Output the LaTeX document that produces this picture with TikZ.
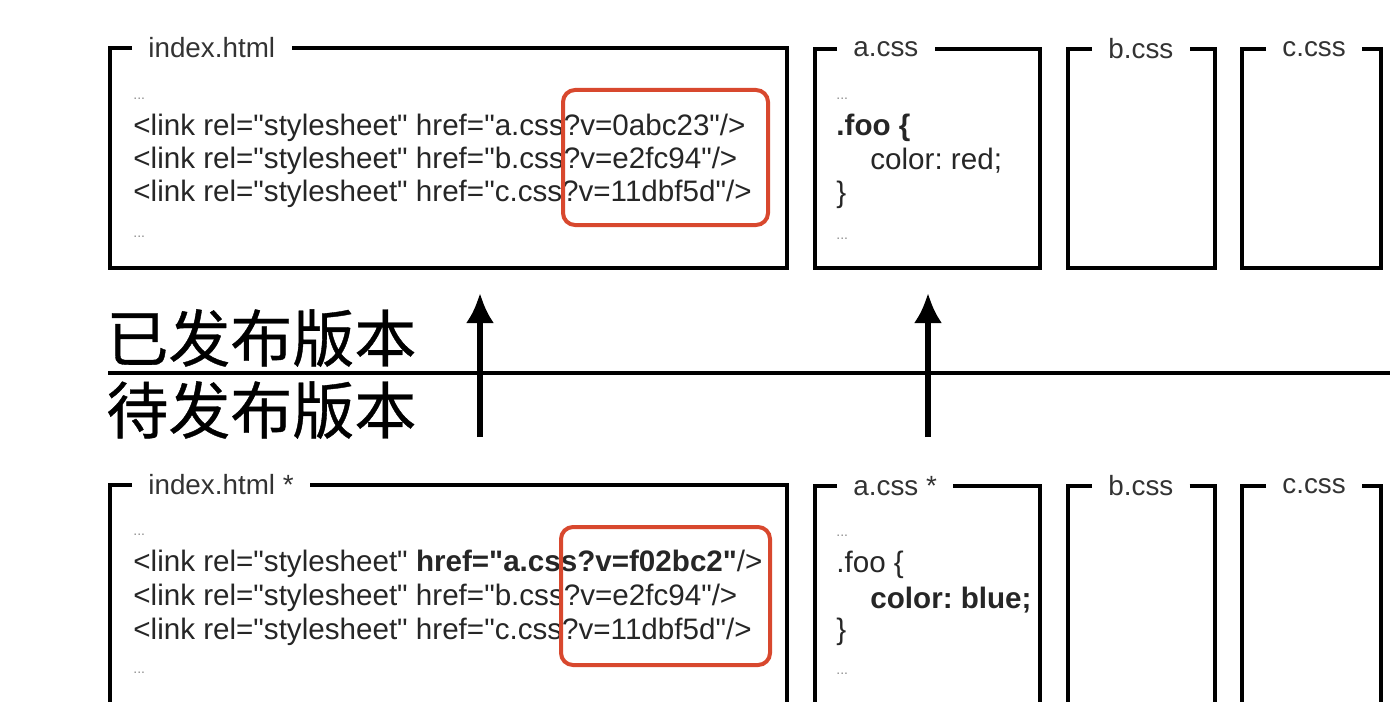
\documentclass[tikz,border=0pt]{standalone}
\usepackage{fontspec}
\setmainfont{Liberation Sans}[Ligatures=TeXOff]
\newfontfamily\cjk[FakeBold=0.6]{Noto Sans CJK SC}
\usetikzlibrary{arrows.meta}
\definecolor{boxred}{HTML}{D8482E}
\frenchspacing
\begin{document}
\begin{tikzpicture}[x=0.5pt,y=-0.5pt,
  frame/.style={line width=2pt,black},
  title/.style={inner xsep=8pt,inner ysep=0pt,font=\fontsize{13.9}{16}\selectfont,text=black!80},
  code/.style={anchor=west,inner sep=0pt,font=\fontsize{14.8}{17}\selectfont,text=black!85},
  dots/.style={anchor=west,inner sep=0pt,font=\fontsize{7}{8}\selectfont,text=black!45},
  redbox/.style={draw=boxred,line width=2pt,rounded corners=6pt},
  cn/.style={anchor=west,inner sep=0pt,font=\cjk\fontsize{31}{34}\selectfont},
  uparrow/.style={line width=2.6pt,-{Latex[length=15pt,width=14pt]}},
  divider/.style={line width=1.7pt}]
\useasboundingbox (0,0) rectangle (1400,701);

% ---------- top row (published) ----------
\node[title,anchor=west] (t1) at (132,48) {index.html};
\draw[frame] (t1.west) -- (110,48) -- (110,268) -- (787,268) -- (787,48) -- (t1.east);
\node[title,anchor=west] (t2) at (837,49) {a.css};
\draw[frame] (t2.west) -- (815,49) -- (815,268) -- (1040,268) -- (1040,49) -- (t2.east);
\node[title,anchor=west] (t3) at (1092,49) {b.css};
\draw[frame] (t3.west) -- (1068,49) -- (1068,268) -- (1215,268) -- (1215,49) -- (t3.east);
\node[title,anchor=west] (t4) at (1266,49) {c.css};
\draw[frame] (t4.west) -- (1242,49) -- (1242,268) -- (1381,268) -- (1381,49) -- (t4.east);

\node[dots] (d1) at (133,99) {...};
\node[code] (l1) at (133,128) {<link rel="stylesheet" href="a.css?v=0abc23"/>};
\node[code] (l2) at (133,161) {<link rel="stylesheet" href="b.css?v=e2fc94"/>};
\node[code] (l3) at (133,194) {<link rel="stylesheet" href="c.css?v=11dbf5d"/>};
\node[dots] (d2) at (133,237) {...};
\draw[redbox] (563,90) rectangle (768,225);

\node[dots] (d3) at (836,99) {...};
\node[code] (c1) at (836,128) {\textbf{.foo \{}};
\node[code] (c2) at (870,161) {color: red;};
\node[code] (c3) at (836,195) {\}};
\node[dots] (d4) at (836,239) {...};

% ---------- divider and labels ----------
\draw[divider] (108,373) -- (1390,373);
\node[cn] (pub) at (106,338) {已发布版本};
\node[cn] (pend) at (106,410) {待发布版本};

\coordinate (s1) at (480,437);
\coordinate (e1) at (480,293);
\coordinate (s2) at (928,437);
\coordinate (e2) at (928,293);
\draw[uparrow] (s1) -- (e1);
\draw[uparrow] (s2) -- (e2);

% ---------- bottom row (pending) ----------
\node[title,anchor=west] (b1) at (132,485) {index.html *};
\draw[frame] (b1.west) -- (110,485) -- (110,720);
\draw[frame] (b1.east) -- (787,485) -- (787,720);
\node[title,anchor=west] (b2) at (837,486) {a.css *};
\draw[frame] (b2.west) -- (815,486) -- (815,720);
\draw[frame] (b2.east) -- (1040,486) -- (1040,720);
\node[title,anchor=west] (b3) at (1092,486) {b.css};
\draw[frame] (b3.west) -- (1068,486) -- (1068,720);
\draw[frame] (b3.east) -- (1215,486) -- (1215,720);
\node[title,anchor=west] (b4) at (1266,486) {c.css};
\draw[frame] (b4.west) -- (1242,486) -- (1242,720);
\draw[frame] (b4.east) -- (1381,486) -- (1381,720);

\node[dots] (e3) at (133,535) {...};
\node[code] (m1) at (133,564) {<link rel="stylesheet" \textbf{href="a.css?v=f02bc2"}/>};
\node[code] (m2) at (133,598) {<link rel="stylesheet" href="b.css?v=e2fc94"/>};
\node[code] (m3) at (133,632) {<link rel="stylesheet" href="c.css?v=11dbf5d"/>};
\node[dots] (e4) at (133,673) {...};
\draw[redbox] (561,527) rectangle (770,665);

\node[dots] (e5) at (836,536) {...};
\node[code] (n1) at (836,565) {.foo \{};
\node[code] (n2) at (870,600) {\textbf{color: blue;}};
\node[code] (n3) at (836,632) {\}};
\node[dots] (e6) at (836,674) {...};
\end{tikzpicture}
\end{document}
